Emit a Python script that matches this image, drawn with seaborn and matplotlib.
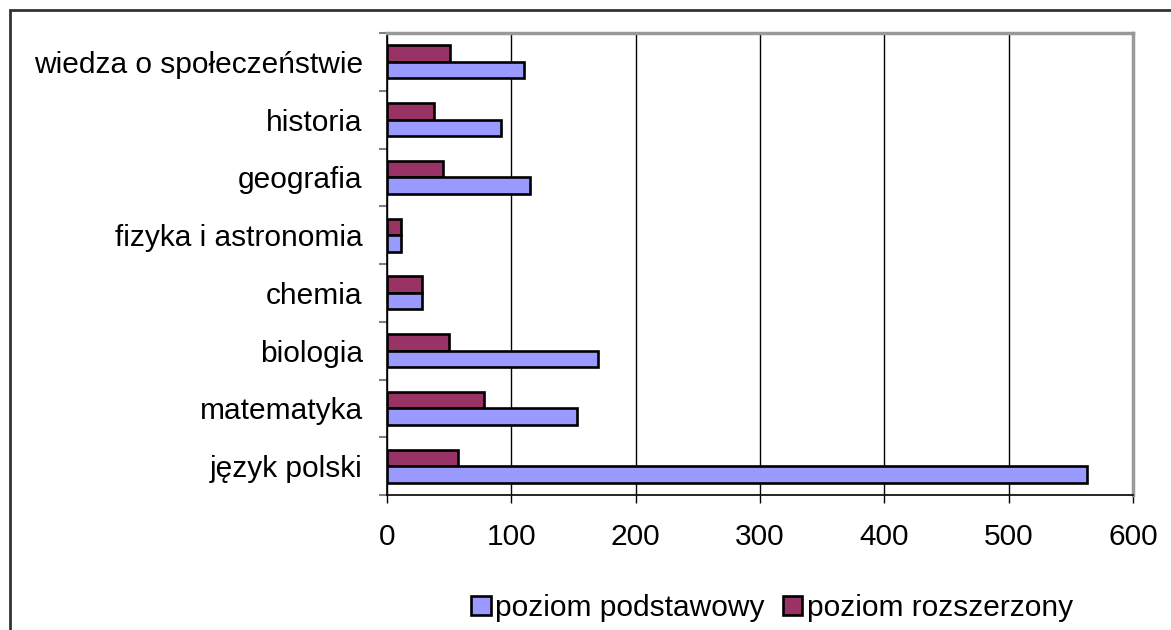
import pandas as pd
import matplotlib.pyplot as plt
import seaborn as sns
from matplotlib.patches import Patch, Rectangle

subjects = ['wiedza o społeczeństwie', 'historia', 'geografia', 'fizyka i astronomia',
            'chemia', 'biologia', 'matematyka', 'język polski']
podstawowy = [110, 92, 115, 11, 28, 170, 153, 563]
rozszerzony = [51, 38, 45, 11, 28, 50, 78, 57]
levels = ['poziom podstawowy', 'poziom rozszerzony']
colors = {'poziom podstawowy': '#9999FF', 'poziom rozszerzony': '#993366'}

df = pd.DataFrame({
    'subject': subjects * 2,
    'value': podstawowy + rozszerzony,
    'level': [levels[0]] * len(subjects) + [levels[1]] * len(subjects),
})

sns.set_style('white')
plt.rcParams['font.family'] = ['Liberation Sans', 'DejaVu Sans']
plt.rcParams['text.color'] = 'black'
plt.rcParams['xtick.color'] = 'black'
plt.rcParams['ytick.color'] = 'black'

fig = plt.figure(figsize=(11.71, 6.3), dpi=100)
ax = fig.add_axes([387 / 1171, 1 - 495 / 630, (1133 - 387) / 1171, (495 - 33) / 630])

sns.barplot(data=df, x='value', y='subject', hue='level', order=subjects,
            hue_order=[levels[1], levels[0]], palette=colors, orient='h',
            width=0.57, saturation=1, edgecolor='black', linewidth=1.9,
            errorbar=None, legend=False, ax=ax, zorder=3)

ax.set_xlim(0, 600)
ax.set_ylim(7.5, -0.5)
ax.set_xticks(range(0, 601, 100))
ax.xaxis.grid(True, color='black', linewidth=1, zorder=0)
ax.yaxis.grid(False)
ax.set_xlabel('')
ax.set_ylabel('')

ax.tick_params(axis='x', which='major', bottom=True, length=6, width=1, color='black',
               labelsize=21.5, pad=14, labelcolor='black')
ax.tick_params(axis='y', which='major', left=False, labelsize=21.5, pad=14,
               labelcolor='black')
ax.set_yticks([i + 0.5 for i in range(-1, 8)], minor=True)
ax.tick_params(axis='y', which='minor', left=True, length=6, width=1.5, color='#808080')

for side in ['top', 'right']:
    ax.spines[side].set_color('#999999')
    ax.spines[side].set_linewidth(2.5)
for side in ['left', 'bottom']:
    ax.spines[side].set_color('black')
    ax.spines[side].set_linewidth(1.2)

handles = [Patch(facecolor=colors[l], edgecolor='black', linewidth=1.9) for l in levels]
leg = fig.legend(handles, levels, loc='center', bbox_to_anchor=(772 / 1171, 1 - 608 / 630),
                 ncol=2, frameon=False, fontsize=21.5, handlelength=0.65, handleheight=0.65,
                 handletextpad=0.15, columnspacing=0.6)
for t in leg.get_texts():
    t.set_color('black')

fig.patches.append(Rectangle((10 / 1171, -0.1), 1.1, 1.1 - 10 / 630,
                             transform=fig.transFigure, fill=False,
                             edgecolor='#333333', linewidth=2))

fig.savefig('out.png', dpi=100)
